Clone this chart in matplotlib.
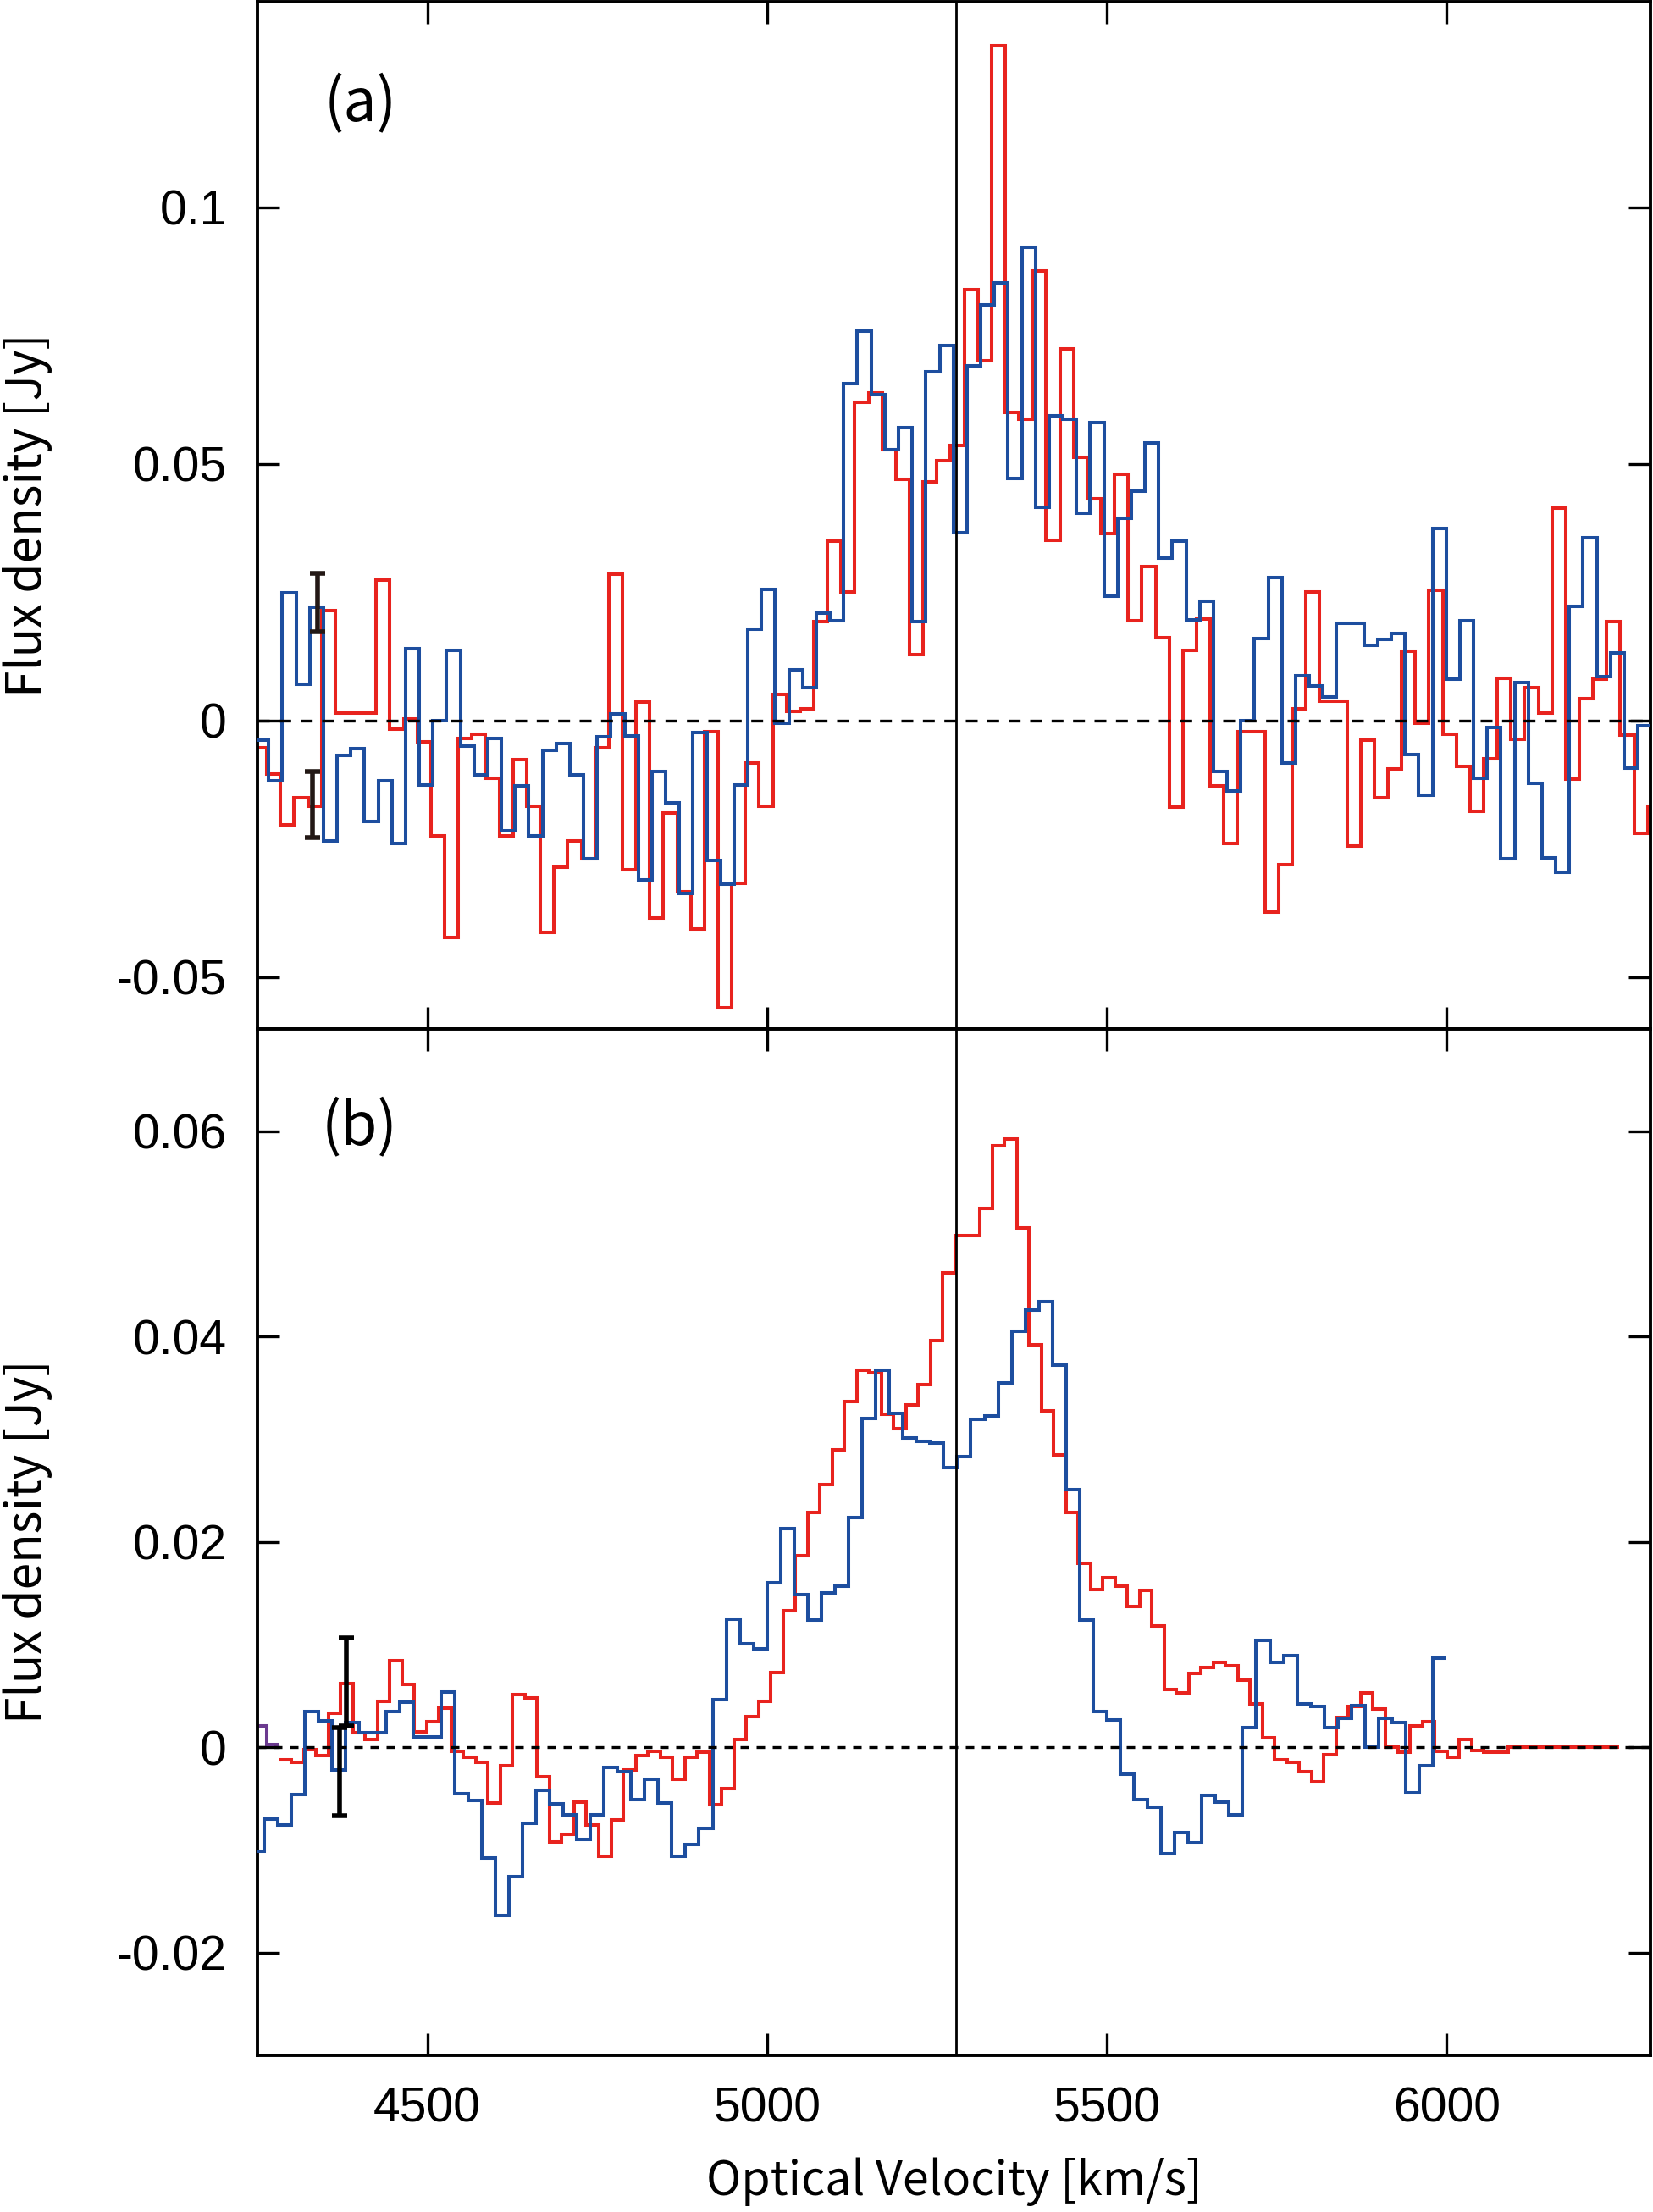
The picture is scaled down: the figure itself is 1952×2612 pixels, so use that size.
import numpy as np
import matplotlib
matplotlib.use('Agg')
import matplotlib.pyplot as plt

# spectra, channel values in Jy
# panel (a): blue / red spectra, first channel left edge + channel width in km/s
a_blue_v0 = 4246.45
a_blue_dv = 20.15
a_blue = [-0.0038, -0.0118, 0.0249, 0.007, 0.022, -0.0235, -0.0068, -0.0055, -0.0196, -0.0118,
          -0.024, 0.014, -0.0126, 0.0, 0.0136, -0.005, -0.0106, -0.0035, -0.0215, -0.0128,
          -0.0224, -0.0058, -0.0045, -0.0106, -0.027, -0.0032, 0.0013, -0.003, -0.031, -0.01,
          -0.016, -0.0337, -0.0024, -0.0273, -0.0318, -0.0126, 0.0178, 0.0255, -0.0006, 0.0099,
          0.0064, 0.0209, 0.0195, 0.0656, 0.0759, 0.0635, 0.0528, 0.057, 0.0192, 0.068,
          0.073, 0.0365, 0.069, 0.081, 0.0853, 0.0472, 0.0922, 0.0415, 0.0594, 0.0587,
          0.0404, 0.058, 0.0242, 0.0394, 0.0447, 0.0541, 0.0317, 0.0349, 0.0196, 0.0232,
          -0.01, -0.0138, 0.0, 0.0159, 0.0278, -0.0083, 0.0087, 0.0068, 0.0045, 0.019,
          0.019, 0.0146, 0.0158, 0.017, -0.0067, -0.0145, 0.0374, 0.008, 0.0195, -0.0112,
          -0.0013, -0.027, 0.0074, -0.0122, -0.0267, -0.0295, 0.0223, 0.0356, 0.0086, 0.0131,
          -0.0092, -0.001]

a_red_v0 = 4243.9
a_red_dv = 20.12
a_red = [-0.0054, -0.0105, -0.0203, -0.015, -0.0167, 0.0214, 0.0015, 0.0015, 0.0015, 0.0274,
         -0.0017, 0.0003, -0.0042, -0.0224, -0.0423, -0.0035, -0.0026, -0.0113, -0.0224, -0.0077,
         -0.0167, -0.0413, -0.0286, -0.0235, -0.027, -0.0054, 0.0285, -0.0291, 0.0036, -0.0385,
         -0.018, -0.0333, -0.0406, -0.0022, -0.056, -0.0317, -0.0083, -0.0167, 0.0051, 0.0017,
         0.0022, 0.0192, 0.035, 0.025, 0.0619, 0.0638, 0.0528, 0.047, 0.0128, 0.0465,
         0.0506, 0.0536, 0.084, 0.070, 0.1314, 0.060, 0.0587, 0.0876, 0.0351, 0.0723,
         0.0513, 0.0432, 0.0364, 0.048, 0.0195, 0.030, 0.0162, -0.0169, 0.0136, 0.0197,
         -0.0128, -0.024, -0.0022, -0.0022, -0.0373, -0.028, 0.0023, 0.0251, 0.0037, 0.0038,
         -0.0244, -0.0038, -0.0151, -0.0095, 0.0135, -0.0006, 0.0254, -0.0026, -0.009, -0.0177,
         -0.0074, 0.0082, -0.0036, 0.0064, 0.0015, 0.0413, -0.0115, 0.0042, 0.008, 0.0192,
         -0.0028, -0.022, -0.0167]

# panel (b)
b_blue_v0 = 4240.0
b_blue_dv = 20.0
b_blue = [-0.0101, -0.0070, -0.0076, -0.0046, 0.0035, 0.0026, -0.0022, 0.0024, 0.0014, 0.0014,
          0.0035, 0.0044, 0.0010, 0.0010, 0.0054, -0.0045, -0.0052, -0.0108, -0.0164, -0.0126,
          -0.0074, -0.0042, -0.0055, -0.0066, -0.009, -0.0066, -0.002, -0.0024, -0.0051, -0.0031,
          -0.0054, -0.0106, -0.0095, -0.0079, 0.0046, 0.0125, 0.0101, 0.0096, 0.016, 0.0213,
          0.0149, 0.0124, 0.015, 0.0157, 0.0224, 0.032, 0.0367, 0.0325, 0.0301, 0.0298,
          0.0296, 0.0272, 0.0283, 0.0319, 0.0323, 0.0355, 0.0405, 0.0426, 0.0434, 0.0372,
          0.0251, 0.0124, 0.0035, 0.0027, -0.0026, -0.0051, -0.0058, -0.0104, -0.0083, -0.0093,
          -0.0047, -0.0053, -0.0066, 0.0019, 0.0104, 0.0083, 0.0089, 0.0042, 0.004, 0.0019,
          0.0028, 0.0041, 0.0, 0.0028, 0.0024, -0.0044, -0.0018, 0.0087]

b_red_v0 = 4282.0
b_red_dv = 18.09
b_red = [-0.0012, -0.0015, -0.0002, -0.0008, 0.0033, 0.0062, 0.0014, 0.0008, 0.0045, 0.0084,
         0.0061, 0.0015, 0.0025, 0.0038, -0.0004, -0.001, -0.0015, -0.0054, -0.0018, 0.0051,
         0.0048, -0.0029, -0.0092, -0.0085, -0.0053, -0.0076, -0.0106, -0.0071, -0.0022, -0.0008,
         -0.0004, -0.001, -0.0031, -0.001, -0.0005, -0.0056, -0.004, 0.0008, 0.003, 0.0045,
         0.0073, 0.0133, 0.0187, 0.0229, 0.0256, 0.029, 0.0337, 0.0367, 0.0365, 0.0324,
         0.031, 0.0333, 0.0353, 0.0396, 0.0462, 0.0498, 0.0498, 0.0525, 0.0586, 0.0592,
         0.0506, 0.0392, 0.0328, 0.0285, 0.0229, 0.0179, 0.0154, 0.0165, 0.0157, 0.0137,
         0.0153, 0.0118, 0.0056, 0.0053, 0.0072, 0.0078, 0.0083, 0.0079, 0.0065, 0.0042,
         0.0009, -0.0012, -0.0015, -0.0024, -0.0034, -0.0007, 0.0029, 0.004, 0.0053, 0.0037,
         0.0, -0.0005, 0.0021, 0.0025, -0.0004, -0.001, 0.0008, -0.0003, -0.0005, -0.0005,
         0.0, 0.0, 0.0, 0.0, 0.0, 0.0, 0.0, 0.0, 0.0]

# small purple bit at the left edge of (b)
b_purple_edges = [4244.0, 4263.7, 4282.0]
b_purple = [0.0021, 0.0003]

# representative error bars
a_err_x = [4338.5, 4331.4]
a_err_y = [0.0229, -0.0164]
a_err = [0.0057, 0.0064]
b_err_x = [4371.0, 4381.5]
b_err_y = [-0.0024, 0.0064]
b_err = [0.0043, 0.0043]

v_sys = 5278.0
xticks = [4500, 5000, 5500, 6000]
a_yticks = [-0.05, 0, 0.05, 0.1]
a_ylabels = ['-0.05', '0', '0.05', '0.1']
b_yticks = [-0.02, 0, 0.02, 0.04, 0.06]
b_ylabels = ['-0.02', '0', '0.02', '0.04', '0.06']

RED = '#E8231E'
BLUE = '#1D4E9F'
PURPLE = '#6B3A8F'
ERRC = '#231815'
LABEL_FONT = ['Noto Sans CJK JP', 'DejaVu Sans']

plt.rcParams['font.family'] = ['Liberation Sans', 'DejaVu Sans']
plt.rcParams['axes.unicode_minus'] = False


def edges(v0, dv, vals):
    return v0 + dv * np.arange(len(vals) + 1)


fig = plt.figure(figsize=(9.76, 13.06), dpi=200)
ax_a = fig.add_axes([0.1557, 0.53503, 0.8427, 0.46420])
ax_b = fig.add_axes([0.1557, 0.07083, 0.8427, 0.46420])

lw = 1.45

# panel (a)
ax_a.stairs(a_red, edges(a_red_v0, a_red_dv, a_red), baseline=None, color=RED, lw=lw, zorder=2)
ax_a.stairs(a_blue, edges(a_blue_v0, a_blue_dv, a_blue), baseline=None, color=BLUE, lw=lw, zorder=3)
ax_a.errorbar(a_err_x, a_err_y, yerr=a_err, fmt='none', ecolor=ERRC,
              elinewidth=2.0, capsize=3.2, capthick=2.0, zorder=4)
ax_a.axhline(0, color='black', lw=1.2, dashes=(4.2, 3.4), zorder=5)

# panel (b)
ax_b.stairs(b_purple, b_purple_edges, baseline=None, color=PURPLE, lw=lw, zorder=2)
ax_b.stairs(b_red, edges(b_red_v0, b_red_dv, b_red), baseline=None, color=RED, lw=lw, zorder=2)
ax_b.stairs(b_blue, edges(b_blue_v0, b_blue_dv, b_blue), baseline=None, color=BLUE, lw=lw, zorder=3)
ax_b.errorbar(b_err_x, b_err_y, yerr=b_err, fmt='none', ecolor='black',
              elinewidth=2.0, capsize=3.2, capthick=2.0, zorder=4)
ax_b.axhline(0, color='black', lw=1.2, dashes=(3.0, 2.7), zorder=5)

for ax in (ax_a, ax_b):
    ax.axvline(v_sys, color='black', lw=1.0, zorder=5)
    ax.set_xlim(4250, 6300)
    ax.set_xticks(xticks)
    ax.tick_params(direction='in', length=9.4, width=1.2, top=True, right=True,
                   labelsize=20.5, pad=13)
    for sp in ax.spines.values():
        sp.set_linewidth(1.4)
    ax.set_ylabel('Flux density [Jy]', fontsize=20.5, family=LABEL_FONT)
    ax.yaxis.set_label_coords(-0.147, 0.5)

ax_a.set_ylim(-0.06, 0.14)
ax_a.set_yticks(a_yticks)
ax_a.set_yticklabels(a_ylabels)
ax_a.tick_params(labelbottom=False)

ax_b.set_ylim(-0.03, 0.07)
ax_b.set_yticks(b_yticks)
ax_b.set_yticklabels(b_ylabels)
ax_b.set_xticklabels([str(t) for t in xticks])
ax_b.set_xlabel('Optical Velocity [km/s]', fontsize=20, family=LABEL_FONT)
ax_b.xaxis.set_label_coords(0.5, -0.0998)

ax_a.text(0.048, 0.900, '(a)', transform=ax_a.transAxes, fontsize=25,
          family=LABEL_FONT, ha='left', va='center')
ax_b.text(0.046, 0.903, '(b)', transform=ax_b.transAxes, fontsize=25,
          family=LABEL_FONT, ha='left', va='center')

fig.savefig('out.png', dpi=200)
